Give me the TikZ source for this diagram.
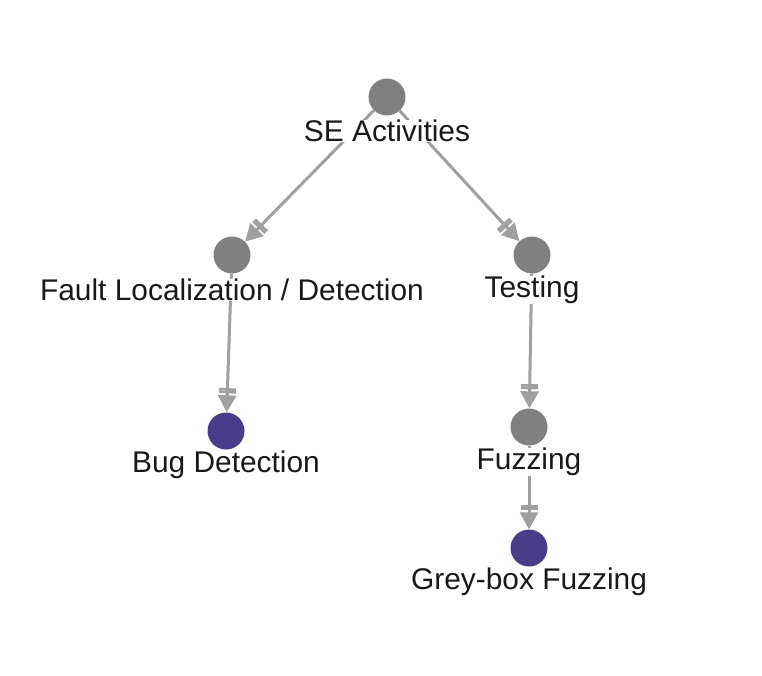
\documentclass[tikz,border=0pt]{standalone}
\usepackage{fontspec}
\setmainfont{Liberation Sans}
\usetikzlibrary{arrows.meta}
\definecolor{dotgrey}{HTML}{808080}
\definecolor{leafblue}{HTML}{483D8B}
\definecolor{edgegrey}{HTML}{A0A0A0}
\begin{document}
\begin{tikzpicture}[
  x=1bp, y=-1bp,
  dot/.style={circle, fill=dotgrey, minimum size=37bp, inner sep=0pt},
  leaf/.style={dot, fill=leafblue},
  lbl/.style={font=\fontsize{30}{34}\selectfont, text=black!90,
    fill=white, inner sep=0.5pt},
  edge/.style={draw=edgegrey, line width=3bp,
    -{Bar[width=17bp,line width=2.6bp] Bar[width=17bp,line width=2.6bp,sep=2bp]
      Triangle[length=17bp,width=18bp]}},
]
\useasboundingbox (0,0) rectangle (762,676);

% ── the nodes ─────────────────────────────────────────────────────────────
\node[dot]  (se)    at (387,97)  {};
\node[dot]  (fault) at (232,255) {};
\node[dot]  (test)  at (532,255) {};
\node[leaf] (bug)   at (226,431) {};
\node[dot]  (fuzz)  at (529,427) {};
\node[leaf] (grey)  at (529,548) {};

% ── the edges ─────────────────────────────────────────────────────────────
\foreach \a/\b in {se/fault, se/test, fault/bug, test/fuzz, fuzz/grey}
  { \draw[edge] (\a) -- (\b); }

% ── the labels ────────────────────────────────────────────────────────────
\node[lbl] (seL)    at (387,131) {SE Activities};
\node[lbl] (faultL) at (232,290) {Fault Localization / Detection};
\node[lbl] (testL)  at (532,290) {Testing};
\node[lbl] (bugL)   at (226,465) {Bug Detection};
\node[lbl] (fuzzL)  at (529,462) {Fuzzing};
\node[lbl] (greyL)  at (529,582) {Grey-box Fuzzing};

\end{tikzpicture}
\end{document}
